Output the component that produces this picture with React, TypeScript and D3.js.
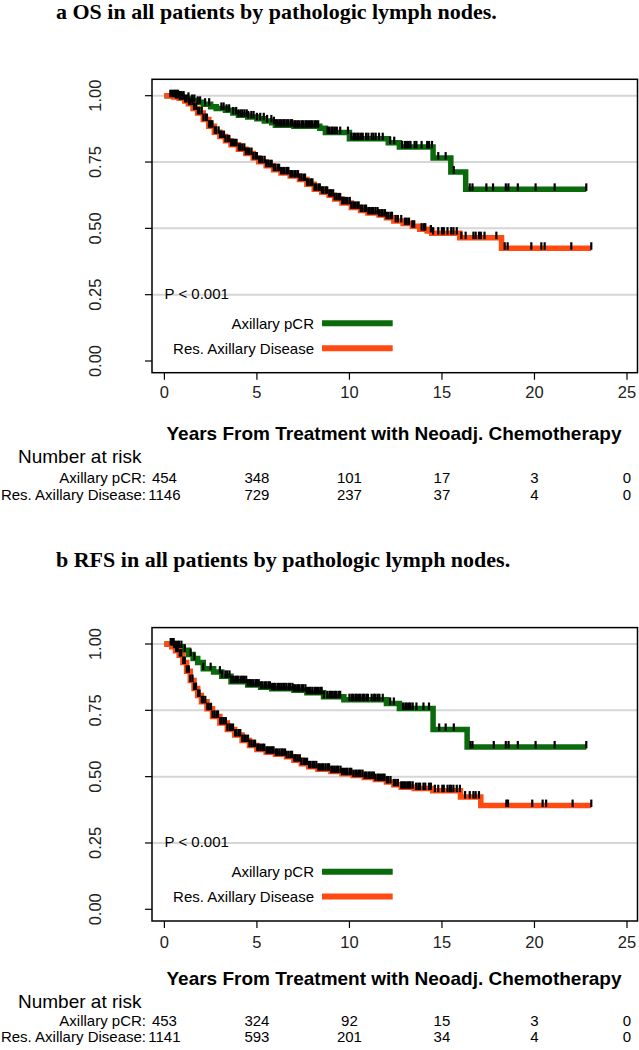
import React from "react";
import * as d3 from "d3";

// ---------- data ----------
const X_TICKS = [0, 5, 10, 15, 20, 25];
const Y_TICKS = [0, 0.25, 0.5, 0.75, 1];
const Y_TICK_LABELS = ["0.00", "0.25", "0.50", "0.75", "1.00"];
const GRID_VALUES = [0.25, 0.5, 0.75, 1];
const GROUP_LABELS = ["Axillary pCR", "Res. Axillary Disease"];
const RISK_ROW_LABELS = ["Axillary pCR:", "Res. Axillary Disease:"];
const TITLES = [
  "a OS in all patients by pathologic lymph nodes.",
  "b RFS in all patients by pathologic lymph nodes.",
];
const X_TITLE = "Years From Treatment with Neoadj. Chemotherapy";
const P_TEXT = "P < 0.001";
const RISK_HEADER = "Number at risk";

// OS, Axillary pCR: [time, survival]
const osPcrCurve: [number, number][] = [
  [0, 1.0], [0.8, 0.995], [1.2, 0.99], [1.5, 0.982], [1.8, 0.975], [2.1, 0.968],
  [2.5, 0.958], [2.8, 0.952], [3.3, 0.945], [3.7, 0.935], [4.0, 0.926], [4.5, 0.92],
  [5.0, 0.913], [5.4, 0.905], [5.8, 0.898], [6.0, 0.889], [7.0, 0.885], [8.4, 0.877],
  [8.7, 0.861], [10.0, 0.838], [12.1, 0.823], [12.7, 0.807], [14.52, 0.765],
  [15.48, 0.712], [16.28, 0.647], [22.8, 0.647],
];
const osPcrCensor = [
  0.32, 0.41, 0.5, 0.58, 0.66, 0.74, 0.85, 0.93, 1.04, 1.3, 1.5, 1.62, 1.8, 1.93,
  2.2, 2.42, 3.08, 3.2, 3.36, 3.5, 3.72, 3.88, 4.0, 4.12, 4.22, 4.33, 4.45, 4.53,
  4.7, 4.82, 5.0, 5.18, 5.37, 5.55, 5.78, 5.92, 6.03, 6.12, 6.22, 6.31, 6.42, 6.5,
  6.61, 6.7, 6.82, 6.9, 7.02, 7.1, 7.21, 7.3, 7.42, 7.5, 7.62, 7.7, 7.81, 7.92,
  8.0, 8.12, 8.2, 8.31, 8.82, 8.9, 9.02, 9.1, 9.21, 9.32, 9.5, 9.92, 10.1, 10.22,
  10.3, 10.42, 10.5, 10.62, 10.72, 10.9, 11.02, 11.2, 11.3, 11.42, 11.6, 11.8,
  12.2, 12.42, 12.85, 13.0, 13.12, 13.2, 13.3, 13.52, 13.62, 13.9, 14.2, 14.3,
  14.46, 14.8, 15.2, 15.64, 16.5, 16.65, 17.4, 17.76, 18.45, 18.59, 19.1, 20.06,
  21.09, 22.8,
];

// OS, Res. Axillary Disease
const osResCurve: [number, number][] = [
  [0, 1.0], [0.5, 0.995], [0.8, 0.99], [1.1, 0.98], [1.3, 0.97], [1.55, 0.952],
  [1.8, 0.935], [2.1, 0.91], [2.4, 0.885], [2.7, 0.862], [3.0, 0.846], [3.3, 0.83],
  [3.6, 0.815], [4.0, 0.798], [4.4, 0.782], [4.8, 0.765], [5.1, 0.751], [5.5, 0.736],
  [5.9, 0.721], [6.3, 0.709], [6.8, 0.697], [7.3, 0.684], [7.7, 0.666], [8.1, 0.647],
  [8.5, 0.636], [8.9, 0.625], [9.2, 0.611], [9.6, 0.596], [10.1, 0.579], [10.6, 0.567],
  [11.0, 0.558], [11.6, 0.55], [12.0, 0.54], [12.4, 0.528], [12.9, 0.518], [13.4, 0.508],
  [13.8, 0.497], [14.2, 0.49], [14.45, 0.482], [15.96, 0.465], [18.22, 0.425],
  [23.07, 0.425],
];
const osResCensor = [
  0.62, 0.71, 0.83, 0.92, 1.01, 1.12, 1.2, 1.33, 1.41, 1.52, 1.6, 1.72, 1.81, 1.9,
  2.02, 2.11, 2.23, 2.3, 2.41, 2.52, 2.6, 2.72, 2.8, 2.93, 3.01, 3.1, 3.22, 3.3, 3.42,
  3.51, 3.6, 3.71, 3.82, 3.9, 4.02, 4.1, 4.21, 4.32, 4.4, 4.52, 4.6, 4.71, 4.8, 4.92,
  5.0, 5.12, 5.21, 5.3, 5.42, 5.5, 5.61, 5.72, 5.8, 5.91, 6.0, 6.12, 6.2, 6.31, 6.42,
  6.5, 6.62, 6.7, 6.81, 6.9, 7.02, 7.1, 7.22, 7.3, 7.41, 7.52, 7.6, 7.71, 7.8, 7.92,
  8.0, 8.11, 8.2, 8.32, 8.4, 8.51, 8.6, 8.72, 8.8, 8.91, 9.0, 9.12, 9.2, 9.31, 9.42,
  9.5, 9.61, 9.7, 9.82, 9.9, 10.02, 10.1, 10.21, 10.3, 10.42, 10.5, 10.61, 10.7,
  10.82, 10.9, 11.02, 11.1, 11.22, 11.3, 11.41, 11.52, 11.6, 11.72, 11.8, 11.92,
  12.0, 12.1, 12.22, 12.3, 12.5, 12.62, 12.8, 13.0, 13.1, 13.22, 13.4, 13.5, 13.9,
  14.02, 14.1, 14.4, 14.52, 14.8, 15.0, 15.1, 15.3, 15.5, 15.62, 15.8, 16.05, 16.28,
  16.7, 16.82, 17.0, 17.1, 17.3, 17.94, 18.39, 18.55, 19.83, 20.37, 20.55, 21.99,
  23.07,
];

// RFS, Axillary pCR
const rfsPcrCurve: [number, number][] = [
  [0, 1.0], [0.6, 0.99], [1.0, 0.976], [1.3, 0.96], [1.55, 0.945], [1.8, 0.93],
  [2.1, 0.907], [2.66, 0.894], [3.1, 0.878], [3.6, 0.858], [4.5, 0.845], [5.2, 0.837],
  [5.8, 0.831], [7.0, 0.826], [7.7, 0.816], [8.6, 0.801], [9.7, 0.79], [12.0, 0.776],
  [12.7, 0.757], [14.52, 0.678], [16.36, 0.612], [22.8, 0.612],
];
const rfsPcrCensor = [
  0.34, 0.42, 0.5, 0.61, 0.72, 0.8, 0.92, 1.1, 1.42, 1.62, 2.1, 2.5, 3.0, 3.12, 3.3,
  3.4, 3.52, 3.61, 3.72, 3.83, 3.92, 4.0, 4.12, 4.21, 4.3, 4.42, 4.5, 4.62, 4.71,
  4.8, 4.92, 5.0, 5.1, 5.22, 5.3, 5.42, 5.5, 5.62, 5.7, 5.81, 5.92, 6.0, 6.12, 6.2,
  6.31, 6.42, 6.5, 6.6, 6.72, 6.8, 6.92, 7.0, 7.1, 7.22, 7.3, 7.42, 7.5, 7.62, 7.7,
  7.82, 7.9, 8.0, 8.12, 8.2, 8.3, 8.42, 8.5, 8.62, 8.8, 8.92, 9.0, 9.1, 9.22, 9.3,
  9.42, 9.5, 10.0, 10.12, 10.2, 10.32, 10.4, 10.52, 10.6, 10.72, 10.8, 10.92, 11.0,
  11.2, 11.32, 11.4, 11.52, 11.62, 11.8, 12.2, 12.4, 12.9, 13.02, 13.1, 13.22, 13.3,
  13.42, 13.62, 14.0, 14.3, 14.85, 15.2, 15.64, 16.54, 16.65, 17.8, 18.45, 18.6,
  19.1, 20.06, 21.09, 22.8,
];

// RFS, Res. Axillary Disease
const rfsResCurve: [number, number][] = [
  [0, 1.0], [0.4, 0.99], [0.6, 0.975], [0.8, 0.958], [1.0, 0.93], [1.2, 0.897],
  [1.4, 0.862], [1.6, 0.832], [1.8, 0.806], [2.0, 0.782], [2.3, 0.756], [2.6, 0.727],
  [3.0, 0.702], [3.4, 0.678], [3.8, 0.657], [4.2, 0.636], [4.6, 0.617], [5.0, 0.602],
  [5.5, 0.592], [6.0, 0.584], [6.6, 0.575], [7.0, 0.562], [7.4, 0.549], [7.8, 0.537],
  [8.3, 0.528], [9.0, 0.519], [9.6, 0.511], [10.2, 0.504], [10.8, 0.497], [11.4, 0.489],
  [12.0, 0.48], [12.4, 0.469], [12.8, 0.46], [13.5, 0.455], [14.5, 0.447],
  [16.0, 0.423], [17.1, 0.391], [23.07, 0.391],
];
const rfsResCensor = [
  0.52, 0.63, 0.72, 0.83, 0.91, 1.02, 1.1, 1.21, 1.32, 1.4, 1.52, 1.6, 1.71, 1.82,
  1.9, 2.02, 2.1, 2.21, 2.32, 2.4, 2.52, 2.6, 2.71, 2.82, 2.9, 3.02, 3.1, 3.21, 3.32,
  3.4, 3.52, 3.6, 3.71, 3.82, 3.9, 4.02, 4.1, 4.21, 4.32, 4.4, 4.52, 4.6, 4.71, 4.82,
  4.9, 5.02, 5.1, 5.21, 5.32, 5.4, 5.52, 5.6, 5.71, 5.82, 5.9, 6.02, 6.1, 6.21, 6.32,
  6.4, 6.52, 6.6, 6.71, 6.82, 6.9, 7.02, 7.1, 7.21, 7.32, 7.4, 7.52, 7.6, 7.71, 7.82,
  7.9, 8.02, 8.1, 8.21, 8.32, 8.4, 8.52, 8.6, 8.71, 8.82, 8.9, 9.02, 9.1, 9.21, 9.32,
  9.4, 9.52, 9.6, 9.71, 9.82, 9.9, 10.02, 10.1, 10.21, 10.32, 10.4, 10.52, 10.6,
  10.71, 10.82, 10.9, 11.02, 11.1, 11.21, 11.32, 11.4, 11.52, 11.6, 11.71, 11.82,
  11.9, 12.02, 12.1, 12.22, 12.4, 12.5, 12.62, 12.8, 12.9, 13.0, 13.12, 13.22, 13.3,
  13.42, 13.6, 13.72, 13.82, 14.0, 14.1, 14.3, 14.4, 14.62, 14.8, 15.02, 15.1, 15.3,
  15.42, 15.5, 15.62, 15.8, 15.97, 16.25, 16.5, 16.7, 16.82, 17.0, 18.48, 18.57,
  19.88, 20.44, 20.63, 22.06, 23.07,
];

const osRiskPcr = [454, 348, 101, 17, 3, 0];
const osRiskRes = [1146, 729, 237, 37, 4, 0];
const rfsRiskPcr = [453, 324, 92, 15, 3, 0];
const rfsRiskRes = [1141, 593, 201, 34, 4, 0];

// ---------- drawing ----------
const GREEN = "#0b6a0b";
const ORANGE = "#ff4a12";
const SANS = "'Liberation Sans', Arial, sans-serif";
const SERIF = "'Liberation Serif', 'Times New Roman', serif";

function survAt(curve: [number, number][], t: number) {
  let s = curve[0][1];
  for (const [ti, si] of curve) if (ti <= t) s = si;
  return s;
}

type PanelProps = {
  dy: number;
  title: string;
  curves: [number, number][][];
  censors: number[][];
  risks: number[][];
  text: { title: number; tick: number; xtitle: number; nar: number; r1: number; r2: number };
};

function Panel({ dy, title, curves, censors, risks, text }: PanelProps) {
  const boxLeft = 152;
  const boxRight = 637.5;
  const boxTop = 79.3 + dy;
  const boxBottom = 372.7 + dy;
  const x = d3.scaleLinear().domain([0, 25]).range([164.4, 627]);
  const y = d3.scaleLinear().domain([0, 1]).range([361 + dy, 95.7 + dy]);
  const line = d3
    .line<[number, number]>()
    .x((d) => x(d[0]))
    .y((d) => y(d[1]))
    .curve(d3.curveStepAfter);
  const colors = [GREEN, ORANGE];

  return (
    <g>
      <text x={56} y={text.title} fontFamily={SERIF} fontWeight="bold" fontSize={22}>
        {title}
      </text>
      {/* grid */}
      {GRID_VALUES.map((v) => (
        <line key={v} x1={boxLeft} x2={boxRight} y1={y(v)} y2={y(v)} stroke="#d6d6d6" strokeWidth={2} />
      ))}
      {/* curves */}
      {curves.map((c, i) => (
        <path key={i} d={line(c) || ""} fill="none" stroke={colors[i]} strokeWidth={5.5} strokeLinejoin="miter" strokeLinecap="butt" />
      ))}
      {/* censor marks */}
      {censors.map((cs, i) =>
        cs.map((t, j) => {
          const yy = y(survAt(curves[i], t));
          return <line key={`${i}-${j}`} x1={x(t)} x2={x(t)} y1={yy - 6} y2={yy + 1.5} stroke="#000" strokeWidth={2.2} />;
        })
      )}
      {/* box */}
      <rect x={boxLeft} y={boxTop} width={boxRight - boxLeft} height={boxBottom - boxTop} fill="none" stroke="#000" strokeWidth={1.5} />
      {/* y axis */}
      {Y_TICKS.map((v, i) => (
        <g key={v}>
          <line x1={boxLeft - 7} x2={boxLeft} y1={y(v)} y2={y(v)} stroke="#000" strokeWidth={1.2} />
          <text
            transform={`translate(95,${y(v)}) rotate(-90)`}
            textAnchor="middle"
            dominantBaseline="central"
            fontFamily={SANS}
            fontSize={16.5}
            fill="#222"
          >
            {Y_TICK_LABELS[i]}
          </text>
        </g>
      ))}
      {/* x axis */}
      {X_TICKS.map((v) => (
        <g key={v}>
          <line x1={x(v)} x2={x(v)} y1={boxBottom} y2={boxBottom + 7} stroke="#000" strokeWidth={1.2} />
          <text x={x(v)} y={text.tick} textAnchor="middle" dominantBaseline="central" fontFamily={SANS} fontSize={16.5} fill="#222">
            {v}
          </text>
        </g>
      ))}
      <text x={394} y={text.xtitle} textAnchor="middle" dominantBaseline="central" fontFamily={SANS} fontWeight="bold" fontSize={19}>
        {X_TITLE}
      </text>
      {/* p value and legend */}
      <text x={164.5} y={y(0.255)} dominantBaseline="central" fontFamily={SANS} fontSize={15}>
        {P_TEXT}
      </text>
      {GROUP_LABELS.map((g, i) => {
        const ly = y(i === 0 ? 0.142 : 0.048);
        return (
          <g key={g}>
            <text x={314} y={ly} textAnchor="end" dominantBaseline="central" fontFamily={SANS} fontSize={15}>
              {g}
            </text>
            <line x1={322} x2={392.7} y1={ly} y2={ly} stroke={colors[i]} strokeWidth={6} />
          </g>
        );
      })}
      {/* risk table */}
      <text x={18} y={text.nar} dominantBaseline="central" fontFamily={SANS} fontSize={19}>
        {RISK_HEADER}
      </text>
      {risks.map((row, i) => {
        const ry = i === 0 ? text.r1 : text.r2;
        return (
          <g key={i}>
            <text x={146} y={ry} textAnchor="end" dominantBaseline="central" fontFamily={SANS} fontSize={15}>
              {RISK_ROW_LABELS[i]}
            </text>
            {row.map((n, j) => (
              <text key={j} x={x(X_TICKS[j])} y={ry} textAnchor="middle" dominantBaseline="central" fontFamily={SANS} fontSize={15}>
                {n}
              </text>
            ))}
          </g>
        );
      })}
    </g>
  );
}

export default function App() {
  return (
    <svg
      width={639}
      height={1050}
      viewBox="0 0 639 1050"
      style={{ position: "absolute", left: 0, top: 0, background: "#fff", display: "block" }}
    >
      <rect x={0} y={0} width={639} height={1050} fill="#fff" />
      <Panel
        dy={0}
        title={TITLES[0]}
        curves={[osPcrCurve, osResCurve]}
        censors={[osPcrCensor, osResCensor]}
        risks={[osRiskPcr, osRiskRes]}
        text={{ title: 19, tick: 392, xtitle: 433, nar: 456, r1: 477, r2: 494 }}
      />
      <Panel
        dy={548.3}
        title={TITLES[1]}
        curves={[rfsPcrCurve, rfsResCurve]}
        censors={[rfsPcrCensor, rfsResCensor]}
        risks={[rfsRiskPcr, rfsRiskRes]}
        text={{ title: 567, tick: 942, xtitle: 978, nar: 1001, r1: 1020, r2: 1036 }}
      />
    </svg>
  );
}
